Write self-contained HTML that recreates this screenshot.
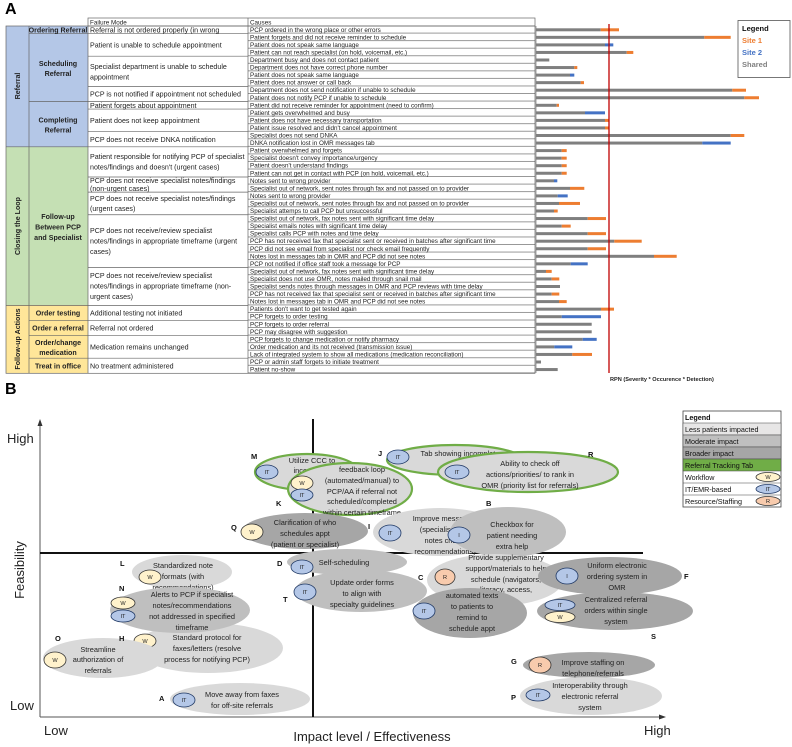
<!DOCTYPE html>
<html><head><meta charset="utf-8"><style>
html,body{margin:0;padding:0;background:#fff;}
svg{display:block;font-family:"Liberation Sans",sans-serif;}
.c{font-size:6.3px;fill:#222;}
.f{font-size:7.1px;fill:#222;}
.s{font-size:7.1px;font-weight:bold;fill:#222;}
.e{font-size:7.4px;fill:#222;text-anchor:middle;}
.lb{font-size:7.5px;font-weight:bold;fill:#111;}
.bd{font-size:5.6px;fill:#222;text-anchor:middle;}
.g{fill:#7f7f7f}.o{fill:#ed7d31}.b{fill:#4472c4}
</style></head><body>
<svg width="792" height="747" viewBox="0 0 792 747" xmlns="http://www.w3.org/2000/svg">
<defs>
<pattern id="rows" x="0" y="26" width="10" height="7.55" patternUnits="userSpaceOnUse">
<line x1="0" y1="7.1" x2="10" y2="7.1" stroke="#555" stroke-width="0.6"/>
</pattern>
</defs>
<text x="5" y="14" font-size="16" font-weight="bold">A</text>
<!-- Table A -->
<rect x="6" y="26" width="23" height="120.8" fill="#b4c7e7"/>
<rect x="29" y="26" width="59" height="120.8" fill="#b4c7e7"/>
<rect x="6" y="146.8" width="82" height="158.55" fill="#c5e0b4"/>
<rect x="6" y="305.35" width="82" height="68" fill="#ffe699"/>
<g stroke="#666" stroke-width="0.7" fill="none">
<rect x="6" y="26" width="529" height="347.3"/>
<rect x="88" y="18" width="447" height="8"/>
<line x1="29" y1="26" x2="29" y2="373.3"/>
<line x1="88" y1="26" x2="88" y2="373.3"/>
<line x1="248" y1="18" x2="248" y2="373.3"/>
<line x1="6" y1="146.8" x2="248" y2="146.8"/>
<line x1="6" y1="305.35" x2="248" y2="305.35"/>
<line x1="29" y1="33.55" x2="248" y2="33.55"/>
<line x1="29" y1="101.5" x2="248" y2="101.5"/>
<line x1="29" y1="320.45" x2="248" y2="320.45"/>
<line x1="29" y1="335.55" x2="248" y2="335.55"/>
<line x1="29" y1="358.2" x2="248" y2="358.2"/>
<line x1="88" y1="56.2" x2="248" y2="56.2"/>
<line x1="88" y1="86.4" x2="248" y2="86.4"/>
<line x1="88" y1="109.05" x2="248" y2="109.05"/>
<line x1="88" y1="131.7" x2="248" y2="131.7"/>
<line x1="88" y1="177" x2="248" y2="177"/>
<line x1="88" y1="192.1" x2="248" y2="192.1"/>
<line x1="88" y1="214.75" x2="248" y2="214.75"/>
<line x1="88" y1="267.6" x2="248" y2="267.6"/>
</g>
<rect x="248" y="26" width="287" height="347.3" fill="url(#rows)"/>
<text class="c" x="90" y="24.5">Failure Mode</text>
<text class="c" x="250" y="24.5">Causes</text>
<text class="s" transform="translate(20,86) rotate(-90)" text-anchor="middle">Referral</text>
<text class="s" transform="translate(20,226) rotate(-90)" text-anchor="middle">Closing the Loop</text>
<text class="s" transform="translate(20,339) rotate(-90)" text-anchor="middle">Follow-up Actions</text>
<g class="s" text-anchor="middle">
<text x="58" y="32.3">Ordering Referral</text>
<text x="58" y="66">Scheduling</text><text x="58" y="76">Referral</text>
<text x="58" y="122.5">Completing</text><text x="58" y="132.5">Referral</text>
<text x="58" y="219">Follow-up</text><text x="58" y="229.5">Between PCP</text><text x="58" y="240">and Specialist</text>
<text x="58" y="315.5">Order testing</text>
<text x="58" y="330.5">Order a referral</text>
<text x="58" y="345">Order/change</text><text x="58" y="355">medication</text>
<text x="58" y="368.5">Treat in office</text>
</g>
<g class="f">
<text x="90" y="32.3">Referral is not ordered properly (in wrong</text>
<text x="90" y="47.5">Patient is unable to schedule appointment</text>
<text x="90" y="69">Specialist department is unable to schedule</text><text x="90" y="79.5">appointment</text>
<text x="90" y="96.5">PCP is not notified if appointment not scheduled</text>
<text x="90" y="107.8">Patient forgets about appointment</text>
<text x="90" y="122.8">Patient does not keep appointment</text>
<text x="90" y="141.8">PCP does not receive DNKA notification</text>
<text x="90" y="159">Patient responsible for notifying PCP of specialist</text><text x="90" y="169.5">notes/findings and doesn't (urgent cases)</text>
<text x="90" y="183">PCP does not receive specialist notes/findings</text><text x="90" y="191">(non-urgent cases)</text>
<text x="90" y="201">PCP does not receive specialist notes/findings</text><text x="90" y="211">(urgent cases)</text>
<text x="90" y="233">PCP does not receive/review specialist</text><text x="90" y="243.5">notes/findings in appropriate timeframe (urgent</text><text x="90" y="254">cases)</text>
<text x="90" y="278">PCP does not receive/review specialist</text><text x="90" y="288.5">notes/findings in appropriate timeframe (non-</text><text x="90" y="299">urgent cases)</text>
<text x="90" y="315.5">Additional testing not initiated</text>
<text x="90" y="330.5">Referral not ordered</text>
<text x="90" y="349.5">Medication remains unchanged</text>
<text x="90" y="368.5">No treatment administered</text>
</g>
<g class="c">
<text x="250" y="31.8">PCP ordered in the wrong place or other errors</text>
<text x="250" y="39.35">Patient forgets and did not receive reminder to schedule</text>
<text x="250" y="46.9">Patient does not speak same language</text>
<text x="250" y="54.45">Patient can not reach specialist (on hold, voicemail, etc.)</text>
<text x="250" y="62">Department busy and does not contact patient</text>
<text x="250" y="69.55">Department does not have correct phone number</text>
<text x="250" y="77.1">Patient does not speak same language</text>
<text x="250" y="84.65">Patient does not answer or call back</text>
<text x="250" y="92.2">Department does not send notification if unable to schedule</text>
<text x="250" y="99.75">Patient does not notify PCP if unable to schedule</text>
<text x="250" y="107.3">Patient did not receive reminder for appointment (need to confirm)</text>
<text x="250" y="114.85">Patient gets overwhelmed and busy</text>
<text x="250" y="122.4">Patient does not have necessary transportation</text>
<text x="250" y="129.95">Patient issue resolved and didn't cancel appointment</text>
<text x="250" y="137.5">Specialist does not send DNKA</text>
<text x="250" y="145.05">DNKA notification lost in OMR messages tab</text>
<text x="250" y="152.6">Patient overwhelmed and forgets</text>
<text x="250" y="160.15">Specialist doesn't convey importance/urgency</text>
<text x="250" y="167.7">Patient doesn't understand findings</text>
<text x="250" y="175.25">Patient can not get in contact with PCP (on hold, voicemail, etc.)</text>
<text x="250" y="182.8">Notes sent to wrong provider</text>
<text x="250" y="190.35">Specialist out of network, sent notes through fax and not passed on to provider</text>
<text x="250" y="197.9">Notes sent to wrong provider</text>
<text x="250" y="205.45">Specialist out of network, sent notes through fax and not passed on to provider</text>
<text x="250" y="213">Specialist attemps to call PCP but unsuccessful</text>
<text x="250" y="220.55">Specialist out of network, fax notes sent with significant time delay</text>
<text x="250" y="228.1">Specialist emails notes with significant time delay</text>
<text x="250" y="235.65">Specialist calls PCP with notes and time delay</text>
<text x="250" y="243.2">PCP has not received fax that specialist sent or received in batches after significant time</text>
<text x="250" y="250.75">PCP did not see email from specialist nor check email frequently</text>
<text x="250" y="258.3">Notes lost in messages tab in OMR and PCP did not see notes</text>
<text x="250" y="265.85">PCP not notified if office staff took a message for PCP</text>
<text x="250" y="273.4">Specialist out of network, fax notes sent with significant time delay</text>
<text x="250" y="280.95">Specialist does not use OMR, notes mailed through snail mail</text>
<text x="250" y="288.5">Specialist sends notes through messages in OMR and PCP reviews with time delay</text>
<text x="250" y="296.05">PCP has not received fax that specialist sent or received in batches after significant time</text>
<text x="250" y="303.6">Notes lost in messages tab in OMR and PCP did not see notes</text>
<text x="250" y="311.15">Patients don't want to get tested again</text>
<text x="250" y="318.7">PCP forgets to order testing</text>
<text x="250" y="326.25">PCP forgets to order referral</text>
<text x="250" y="333.8">PCP may disagree with suggestion</text>
<text x="250" y="341.35">PCP forgets to change medication or notify pharmacy</text>
<text x="250" y="348.9">Order medication and its not received (transmission issue)</text>
<text x="250" y="356.45">Lack of integrated system to show all medications (medication reconciliation)</text>
<text x="250" y="364">PCP or admin staff forgets to initiate treatment</text>
<text x="250" y="371.55">Patient no-show</text>
</g>
<!-- bars -->
<line x1="536" y1="26" x2="536" y2="373" stroke="#888" stroke-width="0.8"/>
<g>
<rect class="g" x="536" y="28.3" width="64.7" height="3"/><rect class="o" x="600.7" y="28.3" width="18.3" height="3"/>
<rect class="g" x="536" y="35.85" width="168.3" height="3"/><rect class="o" x="704.3" y="35.85" width="26.4" height="3"/>
<rect class="g" x="536" y="43.4" width="69" height="3"/><rect class="b" x="605" y="43.4" width="8.3" height="3"/>
<rect class="g" x="536" y="50.95" width="90.7" height="3"/><rect class="o" x="626.7" y="50.95" width="6.6" height="3"/>
<rect class="g" x="536" y="58.5" width="13.3" height="3"/>
<rect class="g" x="536" y="66.05" width="38.3" height="3"/><rect class="o" x="574.3" y="66.05" width="3" height="3"/>
<rect class="g" x="536" y="73.6" width="34" height="3"/><rect class="b" x="570" y="73.6" width="4.3" height="3"/>
<rect class="g" x="536" y="81.15" width="44.7" height="3"/><rect class="o" x="580.7" y="81.15" width="3.3" height="3"/>
<rect class="g" x="536" y="88.7" width="196.3" height="3"/><rect class="o" x="732.3" y="88.7" width="13.7" height="3"/>
<rect class="g" x="536" y="96.25" width="208.3" height="3"/><rect class="o" x="744.3" y="96.25" width="14.7" height="3"/>
<rect class="g" x="536" y="103.8" width="20.7" height="3"/><rect class="o" x="556.7" y="103.8" width="2.3" height="3"/>
<rect class="g" x="536" y="111.35" width="49" height="3"/><rect class="b" x="585" y="111.35" width="20" height="3"/>
<rect class="g" x="536" y="118.9" width="69" height="3"/><rect class="o" x="605" y="118.9" width="4.3" height="3"/>
<rect class="g" x="536" y="126.45" width="69" height="3"/><rect class="o" x="605" y="126.45" width="4.3" height="3"/>
<rect class="g" x="536" y="134" width="194.7" height="3"/><rect class="o" x="730.7" y="134" width="13.6" height="3"/>
<rect class="g" x="536" y="141.55" width="166.3" height="3"/><rect class="b" x="702.3" y="141.55" width="28.4" height="3"/>
<rect class="g" x="536" y="149.1" width="25.7" height="3"/><rect class="o" x="561.7" y="149.1" width="5" height="3"/>
<rect class="g" x="536" y="156.65" width="25.7" height="3"/><rect class="o" x="561.7" y="156.65" width="5" height="3"/>
<rect class="g" x="536" y="164.2" width="25.7" height="3"/><rect class="o" x="561.7" y="164.2" width="5" height="3"/>
<rect class="g" x="536" y="171.75" width="25.7" height="3"/><rect class="o" x="561.7" y="171.75" width="5" height="3"/>
<rect class="g" x="536" y="179.3" width="18" height="3"/><rect class="b" x="554" y="179.3" width="3.3" height="3"/>
<rect class="g" x="536" y="186.85" width="34" height="3"/><rect class="o" x="570" y="186.85" width="14.3" height="3"/>
<rect class="g" x="536" y="194.4" width="21.7" height="3"/><rect class="b" x="557.7" y="194.4" width="10" height="3"/>
<rect class="g" x="536" y="201.95" width="23" height="3"/><rect class="o" x="559" y="201.95" width="21" height="3"/>
<rect class="g" x="536" y="209.5" width="18" height="3"/><rect class="o" x="554" y="209.5" width="3.7" height="3"/>
<rect class="g" x="536" y="217.05" width="51.7" height="3"/><rect class="o" x="587.7" y="217.05" width="18.3" height="3"/>
<rect class="g" x="536" y="224.6" width="25.7" height="3"/><rect class="o" x="561.7" y="224.6" width="9" height="3"/>
<rect class="g" x="536" y="232.15" width="51.7" height="3"/><rect class="o" x="587.7" y="232.15" width="18.3" height="3"/>
<rect class="g" x="536" y="239.7" width="78.3" height="3"/><rect class="o" x="614.3" y="239.7" width="27.4" height="3"/>
<rect class="g" x="536" y="247.25" width="51.7" height="3"/><rect class="o" x="587.7" y="247.25" width="18.3" height="3"/>
<rect class="g" x="536" y="254.8" width="118" height="3"/><rect class="o" x="654" y="254.8" width="22.7" height="3"/>
<rect class="g" x="536" y="262.35" width="34.7" height="3"/><rect class="b" x="570.7" y="262.35" width="17" height="3"/>
<rect class="g" x="536" y="269.9" width="10" height="3"/><rect class="o" x="546" y="269.9" width="5.7" height="3"/>
<rect class="g" x="536" y="277.45" width="15.7" height="3"/><rect class="o" x="551.7" y="277.45" width="7.6" height="3"/>
<rect class="g" x="536" y="285" width="24" height="3"/>
<rect class="g" x="536" y="292.55" width="15.7" height="3"/><rect class="o" x="551.7" y="292.55" width="7.6" height="3"/>
<rect class="g" x="536" y="300.1" width="23" height="3"/><rect class="o" x="559" y="300.1" width="7.7" height="3"/>
<rect class="g" x="536" y="307.65" width="65" height="3"/><rect class="o" x="601" y="307.65" width="13" height="3"/>
<rect class="g" x="536" y="315.2" width="25.7" height="3"/><rect class="b" x="561.7" y="315.2" width="39.3" height="3"/>
<rect class="g" x="536" y="322.75" width="55.7" height="3"/>
<rect class="g" x="536" y="330.3" width="55.7" height="3"/>
<rect class="g" x="536" y="337.85" width="46.7" height="3"/><rect class="b" x="582.7" y="337.85" width="14" height="3"/>
<rect class="g" x="536" y="345.4" width="18.3" height="3"/><rect class="b" x="554.3" y="345.4" width="18" height="3"/>
<rect class="g" x="536" y="352.95" width="36.3" height="3"/><rect class="o" x="572.3" y="352.95" width="19.7" height="3"/>
<rect class="g" x="536" y="360.5" width="5" height="3"/>
<rect class="g" x="536" y="368.05" width="21.7" height="3"/>
</g>
<line x1="609" y1="24" x2="609" y2="373" stroke="#c00000" stroke-width="1.3"/>
<text x="610" y="381" font-size="5.6" font-weight="bold" fill="#222">RPN (Severity * Occurence * Detection)</text>
<rect x="738" y="20.5" width="52" height="57" fill="#fff" stroke="#555" stroke-width="0.8"/>
<g font-size="7.5" font-weight="bold">
<text x="742" y="31" fill="#111">Legend</text>
<text x="742" y="43" fill="#ed7d31">Site 1</text>
<text x="742" y="55" fill="#4472c4">Site 2</text>
<text x="742" y="67" fill="#7f7f7f">Shared</text>
</g>

<!-- Panel B -->
<text x="5" y="394" font-size="16" font-weight="bold">B</text>
<line x1="40" y1="717" x2="40" y2="424" stroke="#555" stroke-width="1"/>
<polygon points="40,419 37.5,426 42.5,426" fill="#333"/>
<line x1="40" y1="717" x2="660" y2="717" stroke="#555" stroke-width="1"/>
<polygon points="666,717 659,714.5 659,719.5" fill="#333"/>
<line x1="313" y1="419" x2="313" y2="717" stroke="#111" stroke-width="2"/>
<line x1="40" y1="553" x2="643" y2="553" stroke="#111" stroke-width="2"/>
<text x="7" y="443" font-size="13" fill="#222">High</text>
<text x="10" y="710" font-size="13" fill="#222">Low</text>
<text transform="translate(24,570) rotate(-90)" font-size="13" fill="#222" text-anchor="middle">Feasibility</text>
<text x="44" y="735" font-size="13" fill="#222">Low</text>
<text x="372" y="741" font-size="13" fill="#222" text-anchor="middle">Impact level / Effectiveness</text>
<text x="644" y="735" font-size="13" fill="#222">High</text>

<!-- M -->
<ellipse cx="307" cy="472" rx="52" ry="18" fill="#d9d9d9" stroke="#70ad47" stroke-width="2.2"/>
<text class="e" x="312" y="463">Utilize CCC to</text><text class="e" x="312" y="473">incorporate</text><text class="e" x="312" y="483">DNKA</text>
<ellipse cx="267" cy="472" rx="11" ry="7" fill="#b4c7e7" stroke="#1f3864" stroke-width="0.8"/><text class="bd" x="267" y="474">IT</text>
<!-- J -->
<ellipse cx="455" cy="460" rx="68" ry="15" fill="#d9d9d9" stroke="#70ad47" stroke-width="2.2"/>
<text class="e" x="460" y="456">Tab showing incomplete</text><text class="e" x="460" y="467">referrals</text>
<ellipse cx="398" cy="457" rx="11" ry="7" fill="#b4c7e7" stroke="#1f3864" stroke-width="0.8"/><text class="bd" x="398" y="459">IT</text>
<!-- R -->
<ellipse cx="528" cy="472" rx="90" ry="20" fill="#d9d9d9" stroke="#70ad47" stroke-width="2.2"/>
<text class="e" x="530" y="466">Ability to check off</text><text class="e" x="530" y="477">actions/priorities/ to rank in</text><text class="e" x="530" y="488">OMR (priority list for referrals)</text>
<ellipse cx="457" cy="472" rx="12" ry="7" fill="#b4c7e7" stroke="#1f3864" stroke-width="0.8"/><text class="bd" x="457" y="474">IT</text>
<!-- feedback -->
<ellipse cx="350" cy="489" rx="62" ry="26" fill="#d9d9d9" stroke="#70ad47" stroke-width="2.2"/>
<text class="e" x="362" y="472">feedback loop</text><text class="e" x="362" y="483">(automated/manual) to</text><text class="e" x="362" y="494">PCP/AA if referral not</text><text class="e" x="362" y="504">scheduled/completed</text><text class="e" x="362" y="515">within certain timeframe</text>
<ellipse cx="302" cy="483" rx="11" ry="7" fill="#fff2cc" stroke="#333" stroke-width="0.8"/><text class="bd" x="302" y="485">W</text>
<ellipse cx="302" cy="495" rx="11" ry="6" fill="#b4c7e7" stroke="#1f3864" stroke-width="0.8"/><text class="bd" x="302" y="497">IT</text>
<!-- Q -->
<ellipse cx="305" cy="531" rx="63" ry="18" fill="#a6a6a6"/>
<text class="e" x="305" y="525">Clarification of who</text><text class="e" x="305" y="536">schedules appt</text><text class="e" x="305" y="547">(patient or specialist)</text>
<ellipse cx="252" cy="532" rx="11" ry="8" fill="#fff2cc" stroke="#333" stroke-width="0.8"/><text class="bd" x="252" y="534">W</text>
<!-- I -->
<ellipse cx="440" cy="532" rx="67" ry="24" fill="#d9d9d9"/>
<text class="e" x="445" y="521">Improve messaging</text><text class="e" x="445" y="532">(specialists flag</text><text class="e" x="445" y="543">notes critical</text><text class="e" x="445" y="554">recommendations)</text>
<ellipse cx="390" cy="533" rx="11" ry="8" fill="#b4c7e7" stroke="#1f3864" stroke-width="0.8"/><text class="bd" x="390" y="535">IT</text>
<!-- B -->
<ellipse cx="508" cy="532" rx="58" ry="25" fill="#bfbfbf"/>
<text class="e" x="512" y="527">Checkbox for</text><text class="e" x="512" y="538">patient needing</text><text class="e" x="512" y="549">extra help</text>
<ellipse cx="459" cy="535" rx="11" ry="8" fill="#b4c7e7" stroke="#1f3864" stroke-width="0.8"/><text class="bd" x="459" y="537">I</text>
<!-- D -->
<ellipse cx="347" cy="562" rx="60" ry="13" fill="#bfbfbf"/>
<text class="e" x="344" y="565">Self-scheduling</text>
<ellipse cx="302" cy="567" rx="11" ry="7" fill="#b4c7e7" stroke="#1f3864" stroke-width="0.8"/><text class="bd" x="302" y="569">IT</text>
<!-- T -->
<ellipse cx="361" cy="591" rx="66" ry="21" fill="#bfbfbf"/>
<text class="e" x="362" y="585">Update order forms</text><text class="e" x="362" y="596">to align with</text><text class="e" x="362" y="607">specialty guidelines</text>
<ellipse cx="305" cy="592" rx="11" ry="8" fill="#b4c7e7" stroke="#1f3864" stroke-width="0.8"/><text class="bd" x="305" y="594">IT</text>
<!-- C -->
<ellipse cx="495" cy="580" rx="68" ry="26" fill="#d9d9d9"/>
<text class="e" x="506" y="560">Provide supplementary</text><text class="e" x="506" y="571">support/materials to help</text><text class="e" x="506" y="582">schedule (navigators,</text><text class="e" x="506" y="592">literacy, access,</text><text class="e" x="506" y="603">etc.)</text>
<ellipse cx="445" cy="577" rx="10" ry="8" fill="#f8cbad" stroke="#333" stroke-width="0.8"/><text class="bd" x="445" y="579">R</text>
<!-- automated -->
<ellipse cx="470" cy="613" rx="57" ry="25" fill="#a6a6a6"/>
<text class="e" x="472" y="598">automated texts</text><text class="e" x="472" y="609">to patients to</text><text class="e" x="472" y="620">remind to</text><text class="e" x="472" y="631">schedule appt</text>
<ellipse cx="424" cy="611" rx="11" ry="8" fill="#b4c7e7" stroke="#1f3864" stroke-width="0.8"/><text class="bd" x="424" y="613">IT</text>
<!-- F -->
<ellipse cx="610" cy="576" rx="72" ry="19" fill="#a6a6a6"/>
<text class="e" x="617" y="568">Uniform electronic</text><text class="e" x="617" y="579">ordering system in</text><text class="e" x="617" y="590">OMR</text>
<ellipse cx="567" cy="576" rx="11" ry="8" fill="#b4c7e7" stroke="#1f3864" stroke-width="0.8"/><text class="bd" x="567" y="578">I</text>
<!-- S -->
<ellipse cx="615" cy="611" rx="78" ry="19" fill="#a6a6a6"/>
<text class="e" x="616" y="602">Centralized referral</text><text class="e" x="616" y="613">orders within single</text><text class="e" x="616" y="624">system</text>
<ellipse cx="560" cy="605" rx="15" ry="5.5" fill="#b4c7e7" stroke="#1f3864" stroke-width="0.8"/><text class="bd" x="560" y="607">IT</text>
<ellipse cx="560" cy="617" rx="15" ry="5.5" fill="#fff2cc" stroke="#333" stroke-width="0.8"/><text class="bd" x="560" y="619">W</text>
<!-- G -->
<ellipse cx="589" cy="665" rx="66" ry="13" fill="#a6a6a6"/>
<text class="e" x="593" y="665">Improve staffing on</text><text class="e" x="593" y="676">telephone/referrals</text>
<ellipse cx="540" cy="665" rx="11" ry="8" fill="#f8cbad" stroke="#333" stroke-width="0.8"/><text class="bd" x="540" y="667">R</text>
<!-- P -->
<ellipse cx="591" cy="696" rx="71" ry="19" fill="#d9d9d9"/>
<text class="e" x="590" y="688">Interoperability through</text><text class="e" x="590" y="699">electronic referral</text><text class="e" x="590" y="710">system</text>
<ellipse cx="538" cy="695" rx="12" ry="6" fill="#b4c7e7" stroke="#1f3864" stroke-width="0.8"/><text class="bd" x="538" y="697">IT</text>
<!-- L -->
<ellipse cx="182" cy="572" rx="50" ry="17" fill="#d9d9d9"/>
<text class="e" x="183" y="568">Standardized note</text><text class="e" x="183" y="579">formats (with</text><text class="e" x="183" y="590">recommendations)</text>
<ellipse cx="150" cy="577" rx="11" ry="7" fill="#fff2cc" stroke="#333" stroke-width="0.8"/><text class="bd" x="150" y="579">W</text>
<!-- H -->
<ellipse cx="208" cy="648" rx="75" ry="25" fill="#d9d9d9"/>
<text class="e" x="207" y="640">Standard protocol for</text><text class="e" x="207" y="651">faxes/letters (resolve</text><text class="e" x="207" y="662">process for notifying PCP)</text>
<ellipse cx="145" cy="641" rx="11" ry="7" fill="#fff2cc" stroke="#333" stroke-width="0.8"/><text class="bd" x="145" y="643">W</text>
<!-- N -->
<ellipse cx="180" cy="610" rx="70" ry="23" fill="#bfbfbf"/>
<text class="e" x="192" y="597">Alerts to PCP if specialist</text><text class="e" x="192" y="608">notes/recommendations</text><text class="e" x="192" y="619">not addressed in specified</text><text class="e" x="192" y="630">timeframe</text>
<ellipse cx="123" cy="603" rx="12" ry="6" fill="#fff2cc" stroke="#333" stroke-width="0.8"/><text class="bd" x="123" y="605">W</text>
<ellipse cx="123" cy="616" rx="12" ry="6" fill="#b4c7e7" stroke="#1f3864" stroke-width="0.8"/><text class="bd" x="123" y="618">IT</text>
<!-- O -->
<ellipse cx="103" cy="658" rx="60" ry="20" fill="#d9d9d9"/>
<text class="e" x="98" y="652">Streamline</text><text class="e" x="98" y="662">authorization of</text><text class="e" x="98" y="673">referrals</text>
<ellipse cx="55" cy="660" rx="11" ry="8" fill="#fff2cc" stroke="#333" stroke-width="0.8"/><text class="bd" x="55" y="662">W</text>
<!-- A -->
<ellipse cx="240" cy="699" rx="70" ry="16" fill="#d9d9d9"/>
<text class="e" x="242" y="697">Move away from faxes</text><text class="e" x="242" y="708">for off-site referrals</text>
<ellipse cx="184" cy="700" rx="11" ry="7" fill="#b4c7e7" stroke="#1f3864" stroke-width="0.8"/><text class="bd" x="184" y="702">IT</text>

<g class="lb">
<text x="251" y="459">M</text><text x="378" y="456">J</text><text x="276" y="506">K</text><text x="486" y="506">B</text>
<text x="231" y="530">Q</text><text x="368" y="529">I</text><text x="588" y="457">R</text>
<text x="120" y="566">L</text><text x="119" y="591">N</text><text x="55" y="641">O</text><text x="119" y="641">H</text>
<text x="159" y="701">A</text><text x="277" y="566">D</text><text x="283" y="602">T</text><text x="418" y="580">C</text>
<text x="684" y="579">F</text><text x="651" y="639">S</text><text x="511" y="664">G</text><text x="511" y="700">P</text>
</g>

<!-- Legend B -->
<g font-size="7.2" fill="#111">
<rect x="683" y="411" width="98" height="96" fill="#fff" stroke="#444" stroke-width="0.8"/>
<rect x="683" y="423" width="98" height="12" fill="#e7e6e6" stroke="#444" stroke-width="0.5"/>
<rect x="683" y="435" width="98" height="12" fill="#bfbfbf" stroke="#444" stroke-width="0.5"/>
<rect x="683" y="447" width="98" height="12" fill="#a6a6a6" stroke="#444" stroke-width="0.5"/>
<rect x="683" y="459" width="98" height="12" fill="#70ad47" stroke="#444" stroke-width="0.5"/>
<line x1="683" y1="483" x2="781" y2="483" stroke="#444" stroke-width="0.5"/>
<line x1="683" y1="495" x2="781" y2="495" stroke="#444" stroke-width="0.5"/>
<text x="685" y="420" font-weight="bold">Legend</text>
<text x="685" y="432">Less patients impacted</text>
<text x="685" y="444">Moderate impact</text>
<text x="685" y="456">Broader impact</text>
<text x="685" y="468">Referral Tracking Tab</text>
<text x="685" y="480">Workflow</text>
<text x="685" y="492">IT/EMR-based</text>
<text x="685" y="504">Resource/Staffing</text>
</g>
<ellipse cx="768" cy="477" rx="12" ry="4.5" fill="#fff2cc" stroke="#333" stroke-width="0.8"/><text class="bd" x="768" y="479">W</text>
<ellipse cx="768" cy="489" rx="12" ry="4.5" fill="#b4c7e7" stroke="#1f3864" stroke-width="0.8"/><text class="bd" x="768" y="491">IT</text>
<ellipse cx="768" cy="501" rx="12" ry="4.5" fill="#f8cbad" stroke="#333" stroke-width="0.8"/><text class="bd" x="768" y="503">R</text>
</svg>
</body></html>
